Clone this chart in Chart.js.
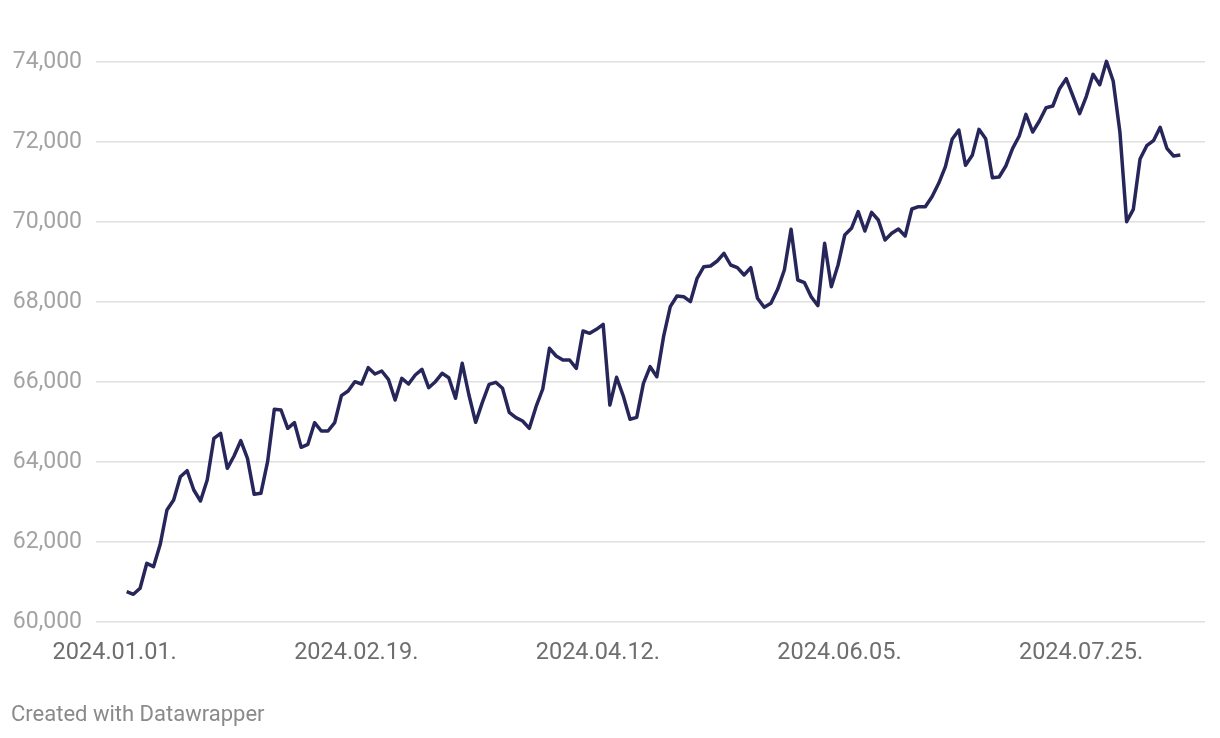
<!DOCTYPE html>
<html>
<head>
<meta charset="utf-8">
<script src="https://cdn.jsdelivr.net/npm/chart.js@4/dist/chart.umd.min.js"></script>
<style>
	html, body { margin: 0; padding: 0; background: #fff; }
	.wrap { position: relative; width: 1220px; height: 738px; }
	.footer {
		position: absolute; left: 11px; top: 701px;
		font-family: Roboto, sans-serif; font-size: 22px; color: #8a8a8a;
	}
</style>
</head>
<body>
<div class="wrap">
	<canvas id="chart-1" width="1220" height="738"></canvas>
	<div class="footer">Created with Datawrapper</div>
</div>
<script>
// index values, one per trading day
const values = [
	60757, 60692, 60842, 61467, 61383, 61942, 62800, 63050, 63633, 63783,
	63300, 63025, 63550, 64592, 64717, 63842, 64150, 64533, 64092, 63192,
	63217, 64008, 65317, 65300, 64842, 64983, 64367, 64442, 64983, 64775,
	64775, 64983, 65658, 65775, 66008, 65950, 66358, 66200, 66275, 66067,
	65550, 66092, 65950, 66175, 66317, 65858, 66008, 66217, 66108, 65592,
	66467, 65675, 64992, 65492, 65942, 65992, 65842, 65242, 65108, 65025,
	64842, 65383, 65825, 66842, 66650, 66550, 66550, 66342, 67275, 67217,
	67317, 67442, 65425, 66117, 65650, 65070, 65117, 65967, 66383, 66133,
	67133, 67883, 68150, 68133, 68008, 68592, 68883, 68900, 69025, 69217,
	68925, 68858, 68675, 68858, 68092, 67867, 67967, 68317, 68800, 69817,
	68550, 68483, 68133, 67908, 69467, 68383, 68925, 69675, 69842, 70258,
	69775, 70242, 70050, 69550, 69717, 69825, 69650, 70325, 70383, 70383,
	70633, 70967, 71383, 72067, 72300, 71417, 71667, 72317, 72083, 71108,
	71125, 71400, 71833, 72150, 72692, 72250, 72525, 72858, 72900, 73333,
	73583, 73150, 72708, 73142, 73692, 73433, 74017, 73525, 72250, 70008,
	70317, 71575, 71908, 72033, 72367, 71842, 71650, 71675
];

// which points carry a date label
const tickIndex = [0, 36, 72, 108, 144];
const tickLabels = ["2024.01.01.", "2024.02.19.", "2024.04.12.", "2024.06.05.", "2024.07.25."];

const yTicks = [60000, 62000, 64000, 66000, 68000, 70000, 72000, 74000];

const points = values.map((v, i) => ({ x: i, y: v }));

new Chart("chart-1", {
	type: "line",
	data: {
		datasets: [{
			data: points,
			borderColor: "#27265a",
			borderWidth: 3.5,
			pointRadius: 0,
			tension: 0,
			borderJoinStyle: "round",
		}]
	},
	options: {
		responsive: false,
		animation: false,
		layout: { padding: { top: 42, right: 15, left: 0, bottom: 0 } },
		plugins: { legend: { display: false }, tooltip: { enabled: false } },
		scales: {
			x: {
				type: "linear",
				min: -4.57,
				max: 160.68,
				grid: { display: false },
				border: { display: false },
				afterBuildTicks: scale => {
					scale.ticks = tickIndex.map(v => ({ value: v }));
				},
				afterFit: scale => { scale.height = 116; },
				ticks: {
					autoSkip: false,
					maxRotation: 0,
					labelOffset: -12,
					padding: 9,
					color: "#6e6e6e",
					font: { family: "Roboto", size: 23.5 },
					callback: v => tickLabels[tickIndex.indexOf(v)],
				},
			},
			y: {
				min: 60000,
				max: 74500,
				grid: { color: "#e0e0e0", lineWidth: 1.5, drawTicks: false },
				border: { display: false },
				afterBuildTicks: scale => {
					scale.ticks = yTicks.map(v => ({ value: v }));
				},
				afterFit: scale => { scale.width = 96; },
				ticks: {
					padding: 14,
					color: "#a3a3a3",
					font: { family: "Roboto", size: 23 },
					callback: v => v.toLocaleString("en-US"),
				},
			},
		},
	},
});
</script>
</body>
</html>
